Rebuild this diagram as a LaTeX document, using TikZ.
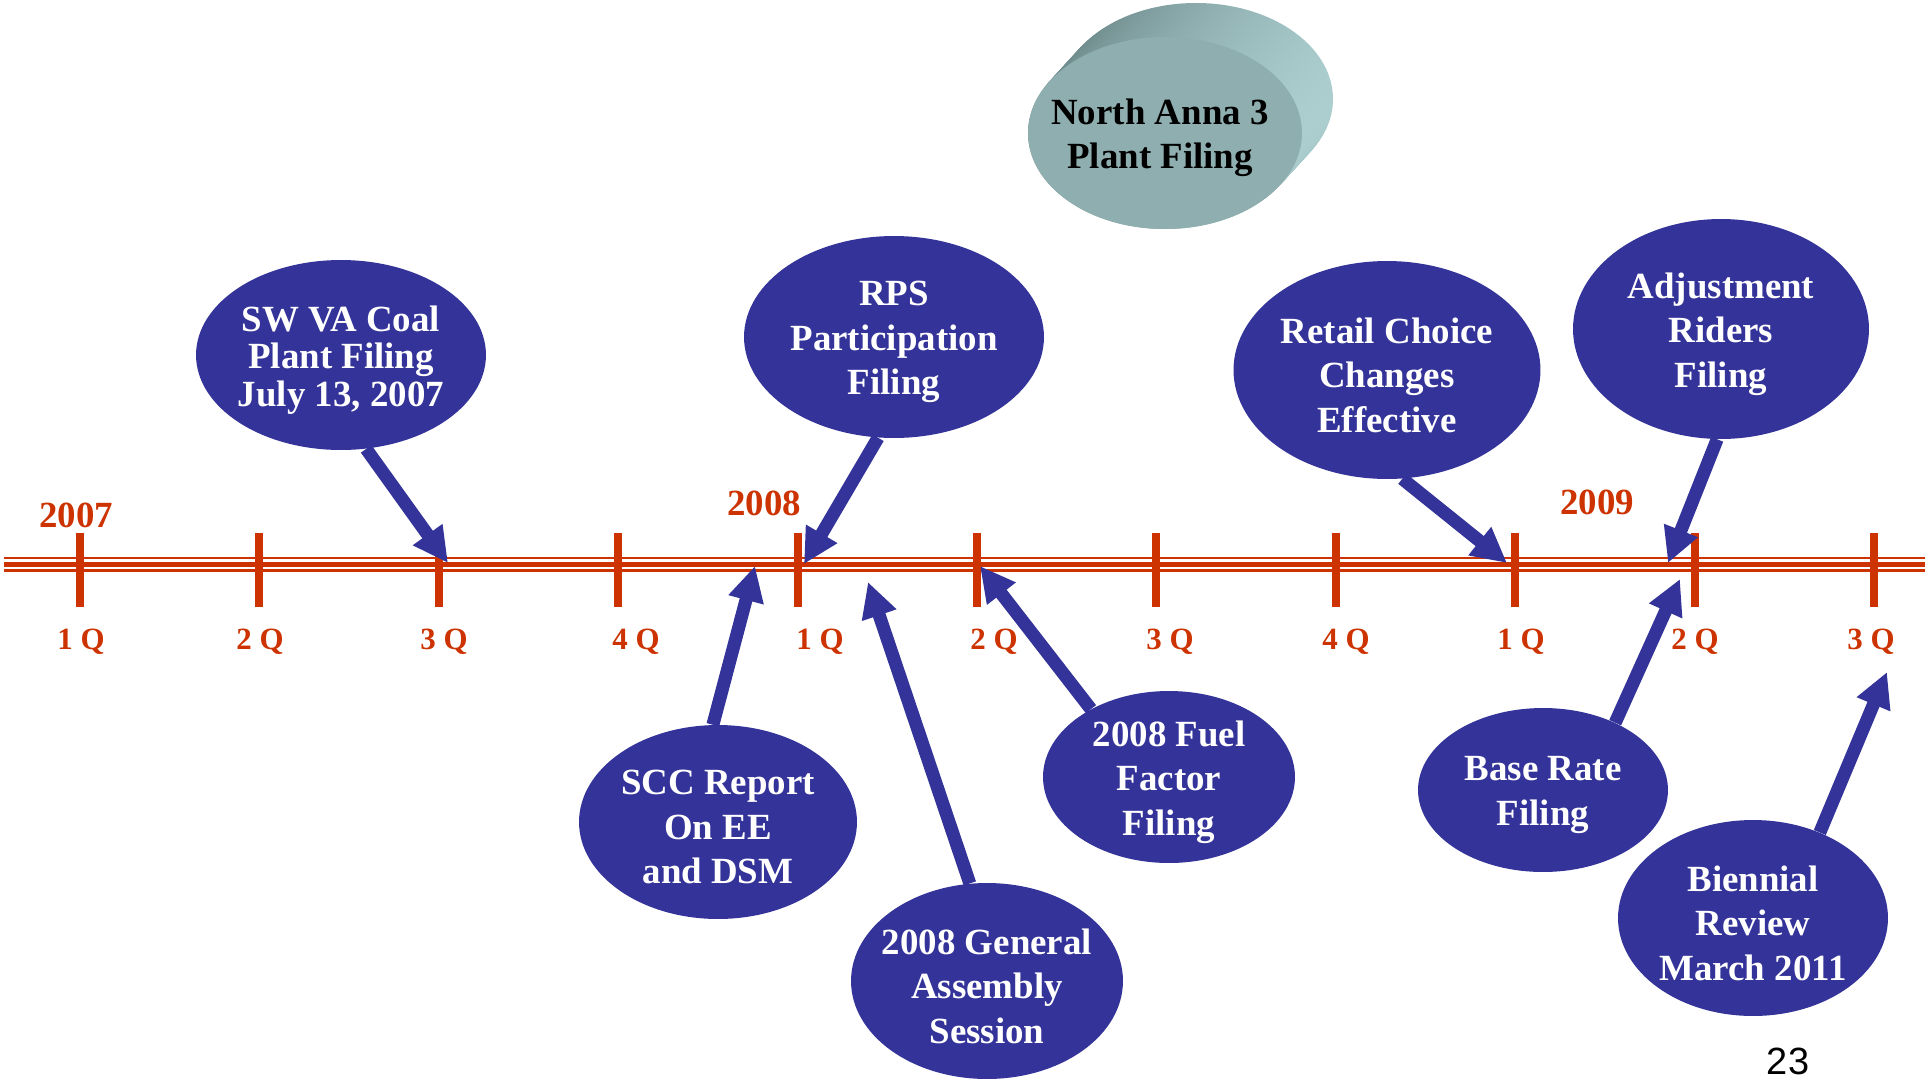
\documentclass[tikz,border=0pt]{standalone}
\usepackage{fontspec}
\setmainfont{Liberation Serif}
\newfontfamily\pagefont{Liberation Sans}
\usetikzlibrary{shapes.geometric,arrows.meta,backgrounds}
\definecolor{evblue}{RGB}{51,51,153}
\definecolor{tlred}{RGB}{204,51,0}
\definecolor{naface}{RGB}{143,174,175}
\definecolor{nadark}{RGB}{106,134,135}
\definecolor{nalight}{RGB}{172,206,207}
\tikzset{
  evt/.style={ellipse, fill=evblue, inner sep=0pt},
  evtxt/.style={text=white, align=center, yshift=-0.1cm, font=\fontsize{21}{25.3}\selectfont\bfseries},
  evarrow/.style={draw=evblue, line width=0.26cm, -{Triangle[length=0.7cm,width=0.68cm]}},
  qlab/.style={text=tlred, font=\fontsize{17.6}{20}\selectfont\bfseries},
  yearlab/.style={text=tlred, font=\fontsize{21}{25}\selectfont\bfseries},
  tick/.style={draw=tlred, line width=0.16cm}
}

\begin{document}
\begin{tikzpicture}[x=0.02cm, y=-0.02cm]
    \useasboundingbox (0,0) rectangle (1925,1079);

    % Draw the North Anna 3 cylinder
    \foreach \k in {0,...,20}
        \shade[left color=nadark, right color=nalight] ({1196-1.55*\k},{99+1.7*\k}) ellipse [x radius=137, y radius=96];
    \node[ellipse, fill=naface, inner sep=0pt, minimum width=5.48cm, minimum height=3.84cm,
        label={[evtxt, text=black, xshift=-0.1cm]center:{North Anna 3\\Plant Filing}}] (na) at (1165,133) {};

    % Year and quarter labels
    \node[yearlab] (y2007) at (76,515) {2007};
    \node[yearlab] (y2008) at (764,503) {2008};
    \node[yearlab] (y2009) at (1597,502) {2009};
    \foreach \x/\q [count=\i] in {81/1,260/2,444/3,636/4,820/1,994/2,1170/3,1346/4,1521/1,1695/2,1871/3}
        \node[qlab] (q\i) at (\x,642) {\q\ Q};

    % Draw the events above the line
    \node[evt, minimum width=5.8cm, minimum height=3.8cm,
        label={[evtxt, font=\fontsize{21}{21.3}\selectfont\bfseries]center:{SW VA Coal\\Plant Filing\\July 13, 2007}}] (swva) at (341,355) {};
    \node[evt, minimum width=6.0cm, minimum height=4.04cm,
        label={[evtxt]center:{RPS\\Participation\\Filing}}] (rps) at (894,337) {};
    \node[evt, minimum width=6.14cm, minimum height=4.36cm,
        label={[evtxt]center:{Retail Choice\\Changes\\Effective}}] (retail) at (1387,370) {};
    \node[evt, minimum width=5.92cm, minimum height=4.4cm,
        label={[evtxt]center:{Adjustment\\Riders\\Filing}}] (riders) at (1721,329) {};

    % Draw the events below the line
    \node[evt, minimum width=5.56cm, minimum height=3.88cm,
        label={[evtxt]center:{SCC Report\\On EE\\and DSM}}] (scc) at (718,822) {};
    \node[evt, minimum width=5.44cm, minimum height=3.92cm,
        label={[evtxt]center:{2008 General\\Assembly\\Session}}] (ga) at (987,981) {};
    \node[evt, minimum width=5.04cm, minimum height=3.44cm,
        label={[evtxt]center:{2008 Fuel\\Factor\\Filing}}] (fuel) at (1169,777) {};
    \node[evt, minimum width=5.0cm, minimum height=3.28cm,
        label={[evtxt]center:{Base Rate\\Filing}}] (base) at (1543,790) {};
    \node[evt, minimum width=5.4cm, minimum height=3.92cm,
        label={[evtxt]center:{Biennial\\Review\\March 2011}}] (review) at (1753,918) {};

    % Arrow tips on the time line
    \coordinate (t1) at (448,563);
    \coordinate (t2) at (804,564);
    \coordinate (t3) at (1507,563);
    \coordinate (t4) at (1668,563);
    \coordinate (t5) at (755,566);
    \coordinate (t6) at (868,582);
    \coordinate (t7) at (980,566);
    \coordinate (t8) at (1680,579);
    \coordinate (t9) at (1887,672);

    \begin{scope}[on background layer]
        % Draw the time line with its ticks
        \draw[tlred, line width=0.3cm] (4,564.5) -- (1925,564.5);
        \draw[white, line width=0.05cm] (4,560.5) -- (1925,560.5);
        \draw[white, line width=0.05cm] (4,568) -- (1925,568);
        \foreach \i in {0,...,10}
            \draw[tick] ({80+179.4*\i},533) -- ({80+179.4*\i},607);

        % Draw the arrows
        \draw[evarrow] (swva.-75) -- (t1);
        \draw[evarrow] (rps.-99) -- (t2);
        \draw[evarrow] (retail.-82) -- (t3);
        \draw[evarrow] (riders.-92) -- (t4);
        \draw[evarrow] (scc.93) -- (t5);
        \draw[evarrow] (ga.100) -- (t6);
        \draw[evarrow] (fuel.139) -- (t7);
        \draw[evarrow] (base.43) -- (t8);
        \draw[evarrow] (review.52) -- (t9);
    \end{scope}

    % Page number
    \node[font=\pagefont\fontsize{21.6}{24}\selectfont] (page) at (1788,1061) {23};
\end{tikzpicture}
\end{document}
